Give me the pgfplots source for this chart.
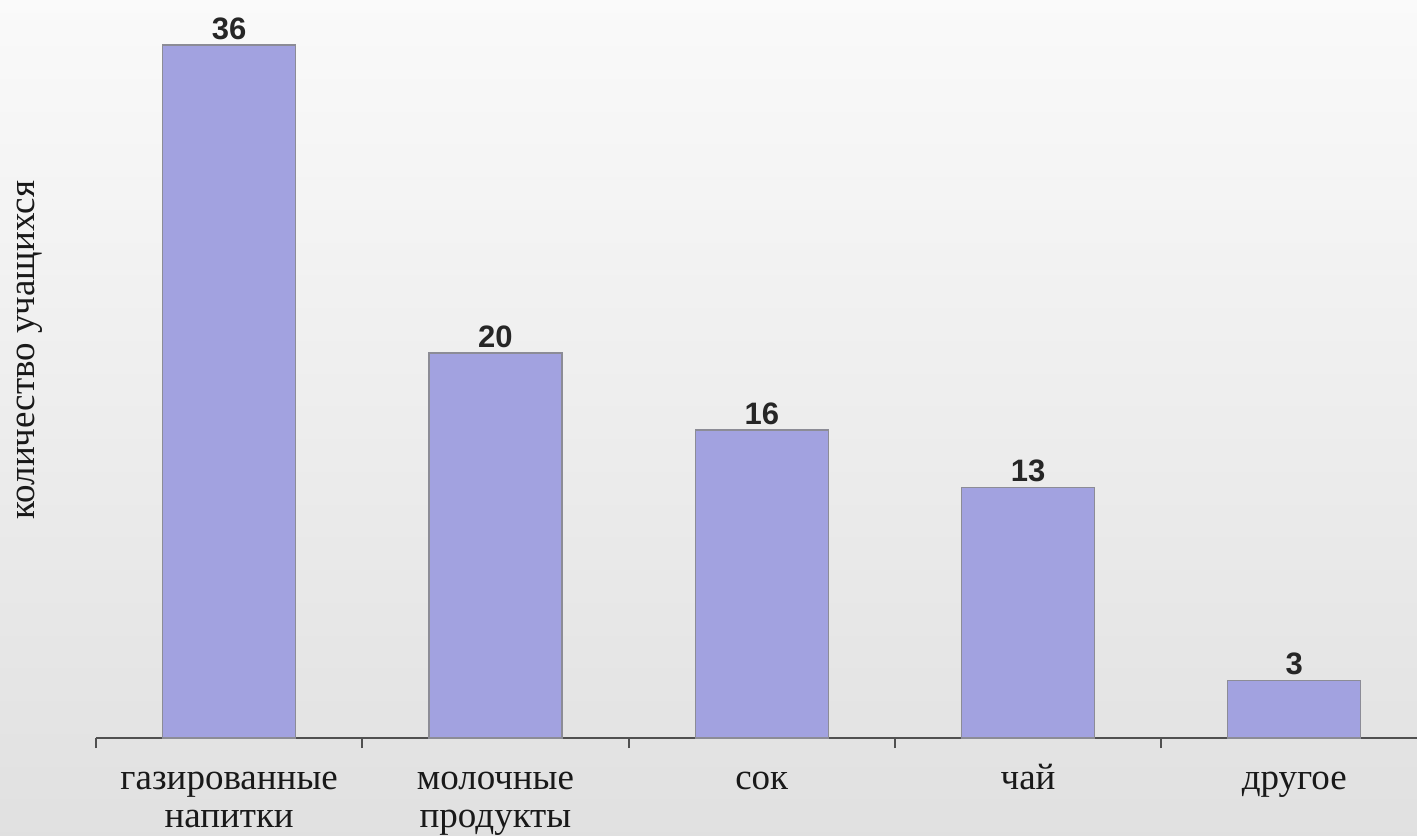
\documentclass[border=0pt]{standalone}
\usepackage{pgfplots}
\pgfplotsset{compat=1.18}
\usepackage{fontspec}
\setmainfont{Liberation Serif}
\newfontfamily\numfont{Liberation Sans}
\definecolor{barfill}{RGB}{162,162,224}
\definecolor{barline}{RGB}{140,140,150}
\definecolor{axline}{RGB}{80,80,80}
\newcommand\st{\rule{0pt}{17pt}}
\begin{document}
\begin{tikzpicture}
\shade[top color=white!98!black, bottom color=black!12] (0,0) rectangle (708.5pt,417.5pt);
\useasboundingbox (0,0) rectangle (708.5pt,417.5pt);
\begin{axis}[
  at={(48pt,48.5pt)}, anchor=south west,
  x=133.15pt, y=9.625pt,
  xmin=-0.5, xmax=4.46, ymin=0, ymax=38,
  axis x line*=bottom, axis y line*=left,
  x axis line style={draw=axline, line width=1pt, -},
  y axis line style={draw=none},
  /pgf/number format/assume math mode=true,
  xtick={0,1,2,3,4},
  major x tick style={draw=none},
  minor xtick={-0.5,0.5,1.5,2.5,3.5},
  minor x tick style={draw=axline, line width=1pt},
  minor tick length=5pt,
  tick align=outside,
  xticklabels={{\st газированные\\напитки},{\st молочные\\продукты},{\st сок},{\st чай},{\st другое}},
  xticklabel style={align=center, anchor=north, inner sep=0pt, font=\fontsize{18.5pt}{19pt}\selectfont, text=black!90, yshift=-4.5pt},
  ytick=\empty,
  every axis y label/.style={at={(axis description cs:-0.05,0.53)}, rotate=90, anchor=center, font=\fontsize{18.5pt}{20pt}\selectfont, text=black!90},
  ylabel={количество учащихся},
  clip=false,
]
\addplot[ybar, bar width=66.5pt, fill=barfill, draw=barline, line width=0.6pt,
  nodes near coords, every node near coord/.style={font=\numfont\bfseries\fontsize{15.5pt}{17pt}\selectfont, text=black!85, anchor=south, inner sep=2.5pt}]
  coordinates {(0,36) (1,20) (2,16) (3,13) (4,3)};
\end{axis}
\end{tikzpicture}
\end{document}
